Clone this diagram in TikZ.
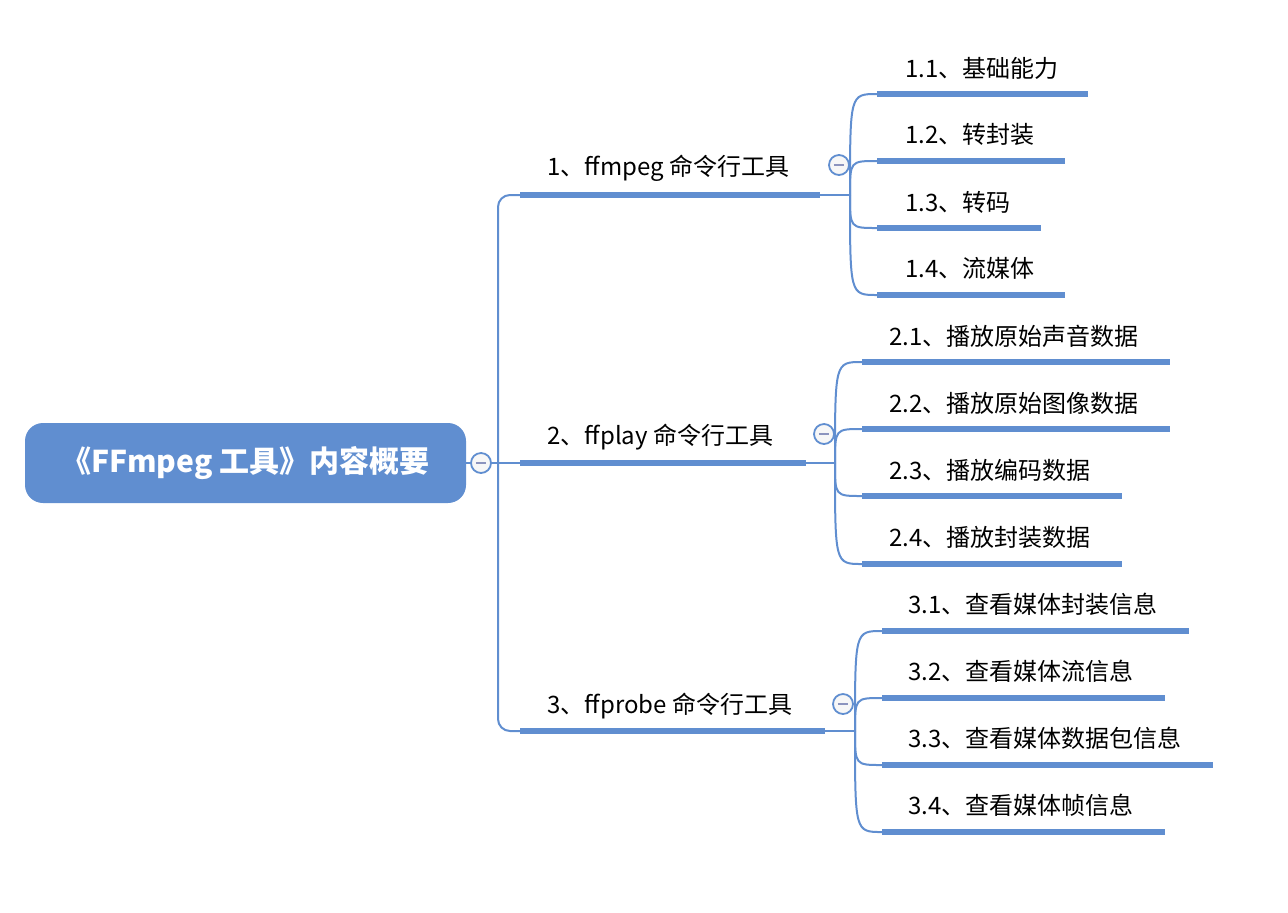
\documentclass[tikz,border=0pt]{standalone}
\usepackage{fontspec}
\setmainfont{Noto Sans CJK SC}
\usepackage{xcolor}
\usepackage{tikz}
\usetikzlibrary{positioning}
\definecolor{mmblue}{RGB}{96,142,208}
\definecolor{mmminus}{RGB}{140,148,190}

\begin{document}
\begin{tikzpicture}[x=0.5pt,y=-0.5pt,font=\fontsize{12}{14}\selectfont]
    \tikzstyle{root}=[fill=mmblue,text=white,rounded corners=9pt,minimum width=220.5pt,minimum height=40pt,font=\fontsize{15}{18}\selectfont\bfseries]
    \tikzstyle{label}=[anchor=west,inner sep=0pt]
    \tikzstyle{bar}=[draw=mmblue,line width=3pt]
    \tikzstyle{link}=[draw=mmblue,line width=1pt]
    \tikzstyle{fold}=[circle,draw=mmblue,fill=black!3,line width=0.9pt,minimum size=10pt,inner sep=0pt,
      path picture={\draw[mmminus,line width=1pt] ([xshift=-2.6pt]path picture bounding box.center) -- ([xshift=2.6pt]path picture bounding box.center);}]
    \useasboundingbox (0,0) rectangle (1288,912);

    % root
    \node[root]    (root) at (245.5,463) {《FFmpeg 工具》内容概要};
    \node[fold]    (f0)   at (481,463)   {};
    \coordinate    (trunk) at (498,463);

    % main topics
    \coordinate (s1) at (520,195); \coordinate (e1) at (820,195); \coordinate (k1) at (850,195);
    \coordinate (s2) at (520,463); \coordinate (e2) at (806,463); \coordinate (k2) at (835,463);
    \coordinate (s3) at (520,731); \coordinate (e3) at (825,731); \coordinate (k3) at (855,731);
    \node[label] (t1) at (547,168) {1、ffmpeg 命令行工具};
    \node[label] (t2) at (547,437) {2、ffplay 命令行工具};
    \node[label] (t3) at (547,706) {3、ffprobe 命令行工具};
    \node[fold]  (f1) at (839,165) {};
    \node[fold]  (f2) at (824,434) {};
    \node[fold]  (f3) at (843,704) {};
\path[link]
(root) edge (f0)
(f0)   edge (s2)
(e1)   edge (k1)
(e2)   edge (k2)
(e3)   edge (k3);
    \draw[link,rounded corners=6pt] (s1) -| (trunk) |- (s3);
    \draw[bar] (s1) -- (e1);
    \draw[bar] (s2) -- (e2);
    \draw[bar] (s3) -- (e3);

    % ffmpeg
    \coordinate (s11) at (877,94);  \coordinate (e11) at (1088,94);
    \coordinate (s12) at (877,161); \coordinate (e12) at (1065,161);
    \coordinate (s13) at (877,228); \coordinate (e13) at (1041,228);
    \coordinate (s14) at (877,295); \coordinate (e14) at (1065,295);
    \node[label] (t11) at (905,68)  {1.1、基础能力};
    \node[label] (t12) at (905,134) {1.2、转封装};
    \node[label] (t13) at (905,202) {1.3、转码};
    \node[label] (t14) at (905,268) {1.4、流媒体};
    \draw[link] (k1) .. controls (k1|-s11) .. (s11);
    \draw[link] (k1) .. controls (k1|-s12) .. (s12);
    \draw[link] (k1) .. controls (k1|-s13) .. (s13);
    \draw[link] (k1) .. controls (k1|-s14) .. (s14);
    \draw[bar] (s11) -- (e11);
    \draw[bar] (s12) -- (e12);
    \draw[bar] (s13) -- (e13);
    \draw[bar] (s14) -- (e14);

    % ffplay
    \coordinate (s21) at (862,362); \coordinate (e21) at (1170,362);
    \coordinate (s22) at (862,429); \coordinate (e22) at (1170,429);
    \coordinate (s23) at (862,496); \coordinate (e23) at (1122,496);
    \coordinate (s24) at (862,564); \coordinate (e24) at (1122,564);
    \node[label] (t21) at (889,336) {2.1、播放原始声音数据};
    \node[label] (t22) at (889,403) {2.2、播放原始图像数据};
    \node[label] (t23) at (889,470) {2.3、播放编码数据};
    \node[label] (t24) at (889,537) {2.4、播放封装数据};
    \draw[link] (k2) .. controls (k2|-s21) .. (s21);
    \draw[link] (k2) .. controls (k2|-s22) .. (s22);
    \draw[link] (k2) .. controls (k2|-s23) .. (s23);
    \draw[link] (k2) .. controls (k2|-s24) .. (s24);
    \draw[bar] (s21) -- (e21);
    \draw[bar] (s22) -- (e22);
    \draw[bar] (s23) -- (e23);
    \draw[bar] (s24) -- (e24);

    % ffprobe
    \coordinate (s31) at (882,631); \coordinate (e31) at (1189,631);
    \coordinate (s32) at (882,698); \coordinate (e32) at (1165,698);
    \coordinate (s33) at (882,765); \coordinate (e33) at (1213,765);
    \coordinate (s34) at (882,832); \coordinate (e34) at (1165,832);
    \node[label] (t31) at (908,604) {3.1、查看媒体封装信息};
    \node[label] (t32) at (908,671) {3.2、查看媒体流信息};
    \node[label] (t33) at (908,738) {3.3、查看媒体数据包信息};
    \node[label] (t34) at (908,805) {3.4、查看媒体帧信息};
    \draw[link] (k3) .. controls (k3|-s31) .. (s31);
    \draw[link] (k3) .. controls (k3|-s32) .. (s32);
    \draw[link] (k3) .. controls (k3|-s33) .. (s33);
    \draw[link] (k3) .. controls (k3|-s34) .. (s34);
    \draw[bar] (s31) -- (e31);
    \draw[bar] (s32) -- (e32);
    \draw[bar] (s33) -- (e33);
    \draw[bar] (s34) -- (e34);
\end{tikzpicture}
\end{document}
